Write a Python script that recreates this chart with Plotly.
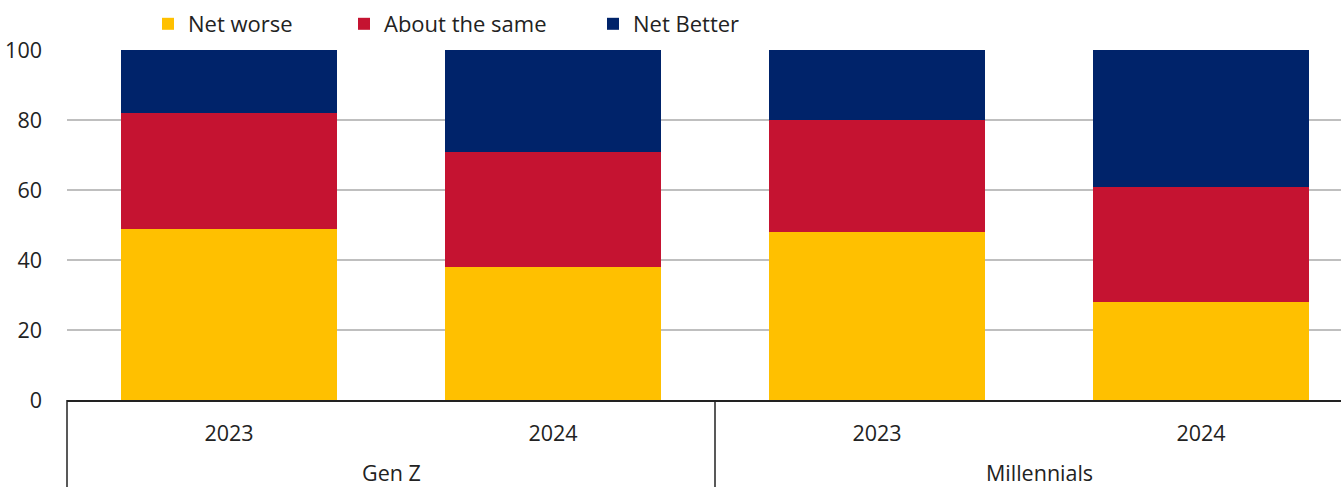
import plotly.graph_objects as go

# Survey responses by generation and year (% of respondents)
groups = ["Gen Z", "Gen Z", "Millennials", "Millennials"]
years = ["2023", "2024", "2023", "2024"]
net_worse = [49, 38, 48, 28]
about_same = [33, 33, 32, 33]
net_better = [18, 29, 20, 39]
y_ticks = [0, 20, 40, 60, 80, 100]

FONT = "Open Sans"
FS = 21.5
INK = "#222222"
W, H = 1341, 487
M_L, M_R, M_T, M_B = 67, 0, 50, 87
SLOT = 324  # pixel width of one category slot

x = list(range(len(years)))
x_max = -0.5 + (W - M_L - M_R) / SLOT

series = [
    ("Net worse", net_worse, "#FFC000", "legend", 186),
    ("About the same", about_same, "#C51331", "legend2", 382),
    ("Net Better", net_better, "#00236A", "legend3", 631),
]

fig = go.Figure()
for name, vals, color, leg, _ in series:
    fig.add_trace(go.Bar(
        x=x, y=vals, name=name, legend=leg, showlegend=True,
        marker=dict(color=color, line=dict(width=0)),
        hovertemplate="%{y}<extra>" + name + "</extra>",
    ))

legend_style = dict(
    orientation="h", xref="container", yref="container",
    yanchor="middle", y=1 - 24 / H, xanchor="left",
    font=dict(family=FONT, size=22, color=INK),
    bgcolor="rgba(0,0,0,0)", itemwidth=30,
)
legends = {}
for name, _, _, leg, text_x in series:
    legends[leg] = dict(legend_style, x=(text_x - 38) / W)

# group boundaries and centres on the category axis
group_names = []
for g in groups:
    if g not in group_names:
        group_names.append(g)
shapes = [dict(type="line", xref="paper", yref="paper", x0=0, x1=0, y0=0, y1=-0.3,
               line=dict(color=INK, width=1.5))]
annotations = []
for gname in group_names:
    idx = [i for i, g in enumerate(groups) if g == gname]
    centre = (idx[0] + idx[-1]) / 2
    annotations.append(dict(
        x=centre, xref="x", y=-72 / (H - M_T - M_B), yref="paper",
        text=gname, showarrow=False, yanchor="middle",
        font=dict(family=FONT, size=FS, color=INK),
    ))
    if idx[-1] < len(groups) - 1:
        b = idx[-1] + 0.5
        shapes.append(dict(type="line", xref="x", yref="paper", x0=b, x1=b, y0=0, y1=-0.3,
                           line=dict(color=INK, width=1.5)))

fig.update_layout(
    width=W, height=H,
    margin=dict(l=M_L, r=M_R, t=M_T, b=M_B, autoexpand=False),
    barmode="stack", bargap=1 - 216 / SLOT,
    plot_bgcolor="white", paper_bgcolor="white",
    font=dict(family=FONT, size=FS, color=INK),
    shapes=shapes, annotations=annotations,
    showlegend=True,
    **legends,
)
fig.update_xaxes(
    range=[-0.5, x_max], tickmode="array", tickvals=x, ticktext=years,
    showgrid=False, zeroline=False,
    showline=True, linecolor=INK, linewidth=1.5,
    ticks="outside", ticklen=0, ticklabelstandoff=13,
    tickfont=dict(family=FONT, size=FS, color=INK),
)
fig.update_yaxes(
    range=[0, 100], tickmode="array", tickvals=y_ticks,
    showgrid=True, gridcolor="#BFBFBF", gridwidth=2,
    zeroline=False, showline=False,
    ticks="", ticklabelstandoff=24,
    tickfont=dict(family=FONT, size=FS, color=INK),
)

fig.write_html("out.html")
